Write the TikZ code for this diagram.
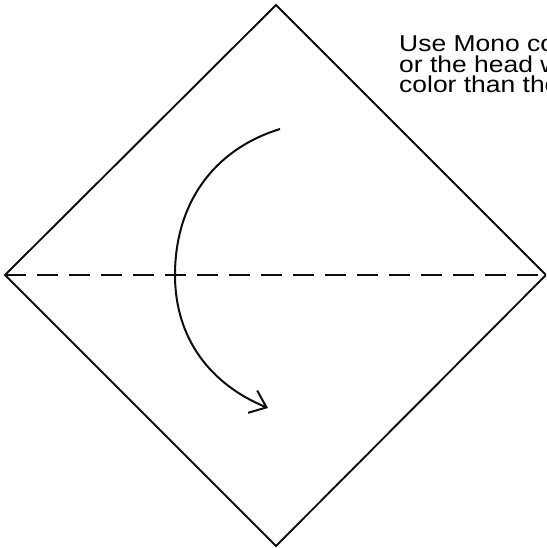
\documentclass[tikz,border=0pt]{standalone}
\usepackage{fontspec}
\setmainfont{Liberation Sans}
\newfontfamily\notefont[FakeStretch=1.15]{Liberation Sans}
\usetikzlibrary{arrows.meta}
\begin{document}
\begin{tikzpicture}[x=1pt,y=-1pt,
  edge/.style={line width=1.9pt, draw=black!95, line join=miter},
  foldline/.style={line width=2pt, draw=black!95, dash pattern=on 21pt off 11pt},
  turnarrow/.style={line width=2pt, draw=black!95, -{Straight Barb[length=15pt,width=24pt]}},
  note/.style={anchor=north west, align=left, inner sep=0pt, font=\notefont\fontsize{23pt}{20.5pt}\selectfont}
]
\clip (0,0) rectangle (546,548);
\coordinate (T) at (276,5);
\coordinate (R) at (546,275);
\coordinate (B) at (276,546);
\coordinate (L) at (5,275);
\draw[edge] (T) -- (R) -- (B) -- (L) -- cycle;
\draw[foldline] (L) -- (R);
\coordinate (s) at (280,129);
\coordinate (m) at (175,275);
\coordinate (e) at (268,408);
\draw[turnarrow] (s) .. controls (212,150) and (175,205) .. (m) .. controls (175,340) and (212,385) .. (e);
\node[note] (txt) at (399,35) {Use Mono color\\or the head with\\color than the};
\end{tikzpicture}
\end{document}
